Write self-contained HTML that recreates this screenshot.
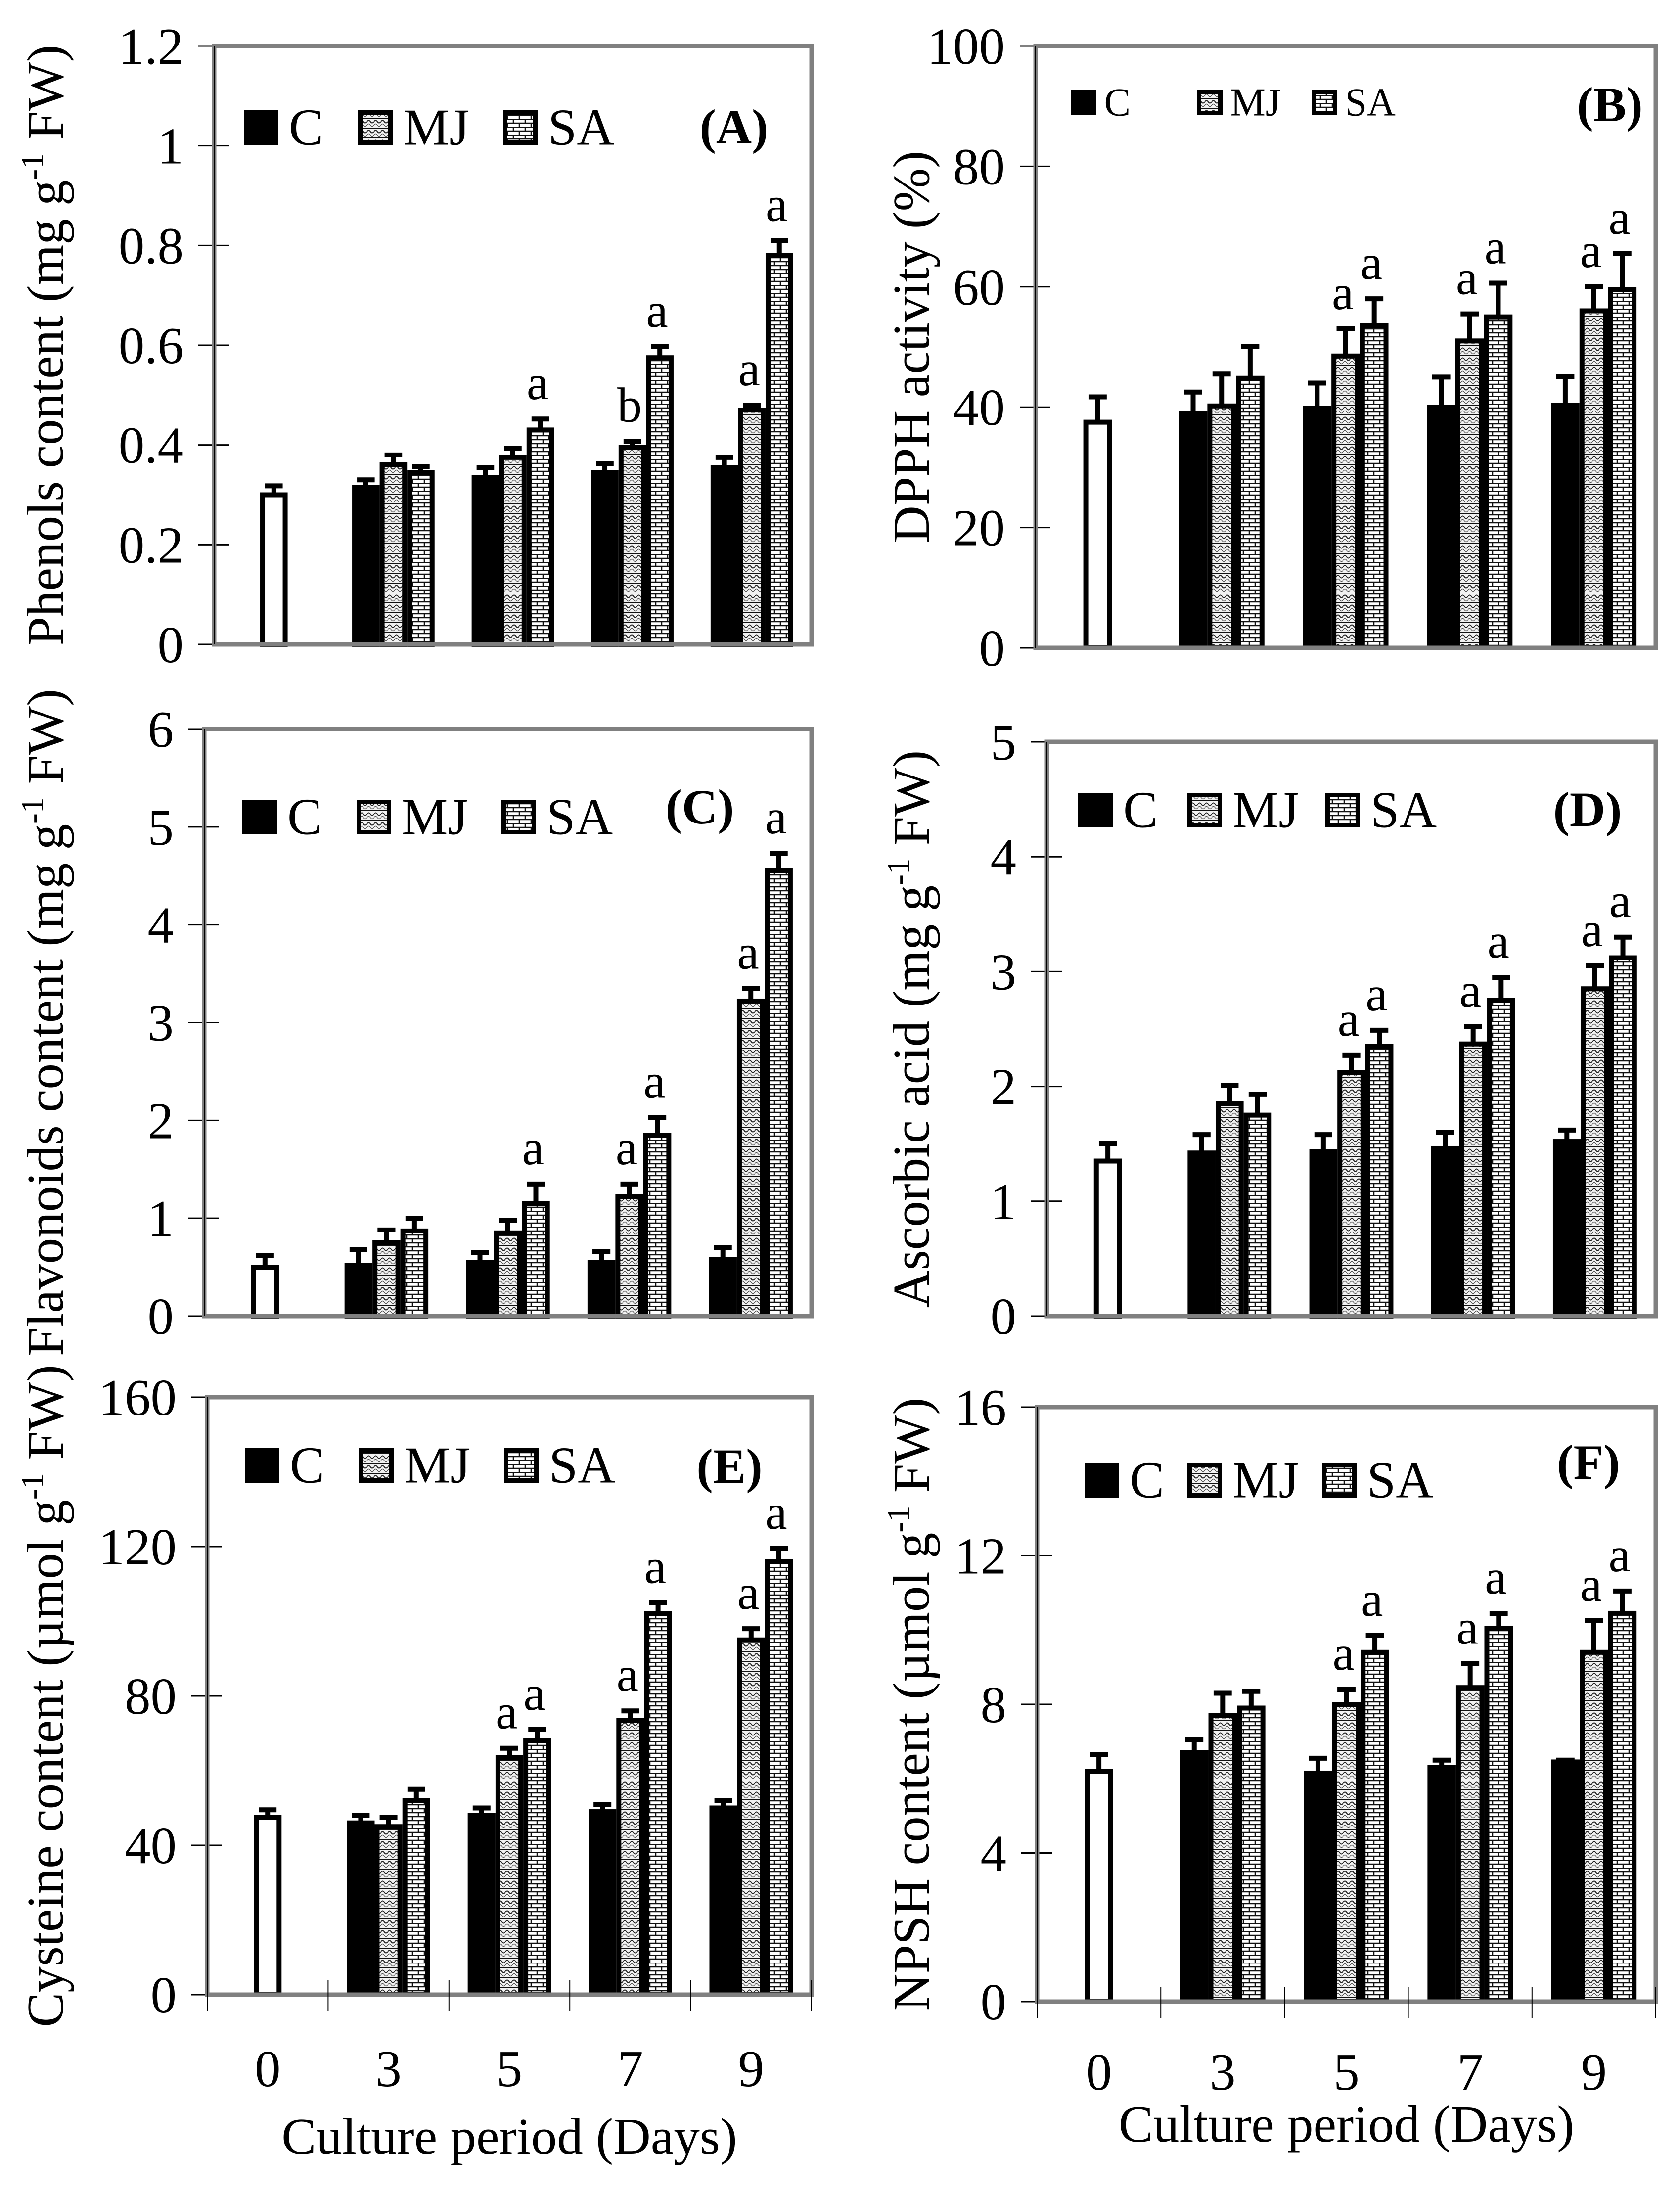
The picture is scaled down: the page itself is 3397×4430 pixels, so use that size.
<!DOCTYPE html>
<html><head><meta charset="utf-8"><style>
html,body{margin:0;padding:0;background:#fff;}
svg{display:block;font-family:"Liberation Serif","Times New Roman",serif;}
</style></head><body>
<svg id="fig" width="3397" height="4430" viewBox="0 0 3397 4430" xmlns="http://www.w3.org/2000/svg">
<defs>
<pattern id="pMJ" width="14" height="20" patternUnits="userSpaceOnUse">
<rect width="14" height="20" fill="#f2f2f2"/>
<path d="M0 6 Q3.5 1 7 6 T14 6" fill="none" stroke="#222" stroke-width="2"/>
<path d="M0 13 Q3.5 8 7 13 T14 13" fill="none" stroke="#555" stroke-width="1.5"/>
<line x1="0" y1="19" x2="14" y2="19" stroke="#111" stroke-width="2"/>
</pattern>
<pattern id="pSA" width="24" height="16" patternUnits="userSpaceOnUse">
<rect width="24" height="16" fill="#fff"/>
<line x1="0" y1="1" x2="24" y2="1" stroke="#111" stroke-width="2.5"/>
<line x1="0" y1="9" x2="24" y2="9" stroke="#111" stroke-width="2.5"/>
<line x1="6" y1="1" x2="6" y2="9" stroke="#111" stroke-width="2.5"/>
<line x1="18" y1="9" x2="18" y2="16" stroke="#111" stroke-width="2.5"/>
</pattern>
</defs>
</svg>
<script>
const categories = ["0","3","5","7","9"];
const seriesNames = ["C","MJ","SA"];

const aTicks = [0,0.2,0.4,0.6,0.8,1,1.2];
const aTickLabels = ["0","0.2","0.4","0.6","0.8","1","1.2"];
const aZero = [0.30], aZeroErr = [0.018];
const aC  = [0.315,0.335,0.345,0.355];
const aMJ = [0.36,0.375,0.395,0.47];
const aSA = [0.345,0.43,0.575,0.78];
const aCErr = [0.015,0.02,0.018,0.02];
const aMJErr = [0.02,0.018,0.012,0.01];
const aSAErr = [0.012,0.022,0.022,0.03];
const aMJLet = ["","","b","a"];
const aSALet = ["","a","a","a"];

const bTicks = [0,20,40,60,80,100];
const bTickLabels = ["0","20","40","60","80","100"];
const bZero = [37.5], bZeroErr = [4.2];
const bC  = [39,39.8,40,40.3];
const bMJ = [40.2,48.5,51,56];
const bSA = [44.8,53.5,55,59.5];
const bCErr = [3.5,4.2,5,4.8];
const bMJErr = [5.3,4.5,4.5,4];
const bSAErr = [5.3,4.5,5.6,6];
const bMJLet = ["","a","a","a"];
const bSALet = ["","a","a","a"];

const cTicks = [0,1,2,3,4,5,6];
const cTickLabels = ["0","1","2","3","4","5","6"];
const cZero = [0.5], cZeroErr = [0.12];
const cC  = [0.52,0.55,0.55,0.58];
const cMJ = [0.75,0.85,1.22,3.22];
const cSA = [0.87,1.15,1.85,4.55];
const cCErr = [0.16,0.1,0.11,0.12];
const cMJErr = [0.13,0.13,0.13,0.13];
const cSAErr = [0.13,0.2,0.18,0.18];
const cMJLet = ["","","a","a"];
const cSALet = ["","a","a","a"];

const dTicks = [0,1,2,3,4,5];
const dTickLabels = ["0","1","2","3","4","5"];
const dZero = [1.35], dZeroErr = [0.15];
const dC  = [1.42,1.43,1.46,1.52];
const dMJ = [1.85,2.12,2.37,2.85];
const dSA = [1.75,2.35,2.75,3.12];
const dCErr = [0.16,0.15,0.14,0.1];
const dMJErr = [0.16,0.15,0.15,0.2];
const dSAErr = [0.18,0.14,0.2,0.18];
const dMJLet = ["","a","a","a"];
const dSALet = ["","a","a","a"];

const eTicks = [0,40,80,120,160];
const eTickLabels = ["0","40","80","120","160"];
const eZero = [47.5], eZeroErr = [2];
const eC  = [46,48,49,50];
const eMJ = [45,63.5,73.5,95];
const eSA = [52,68,102,116];
const eCErr = [2,2,2,2];
const eMJErr = [2.5,2.5,2.5,3];
const eSAErr = [3,3,3,3.5];
const eMJLet = ["","a","a","a"];
const eSALet = ["","a","a","a"];

const fTicks = [0,4,8,12,16];
const fTickLabels = ["0","4","8","12","16"];
const fZero = [6.2], fZeroErr = [0.45];
const fC  = [6.7,6.15,6.3,6.45];
const fMJ = [7.7,8.0,8.45,9.4];
const fSA = [7.9,9.4,10.05,10.45];
const fCErr = [0.35,0.4,0.2,0.05];
const fMJErr = [0.6,0.4,0.65,0.85];
const fSAErr = [0.45,0.45,0.4,0.6];
const fMJLet = ["","a","a","a"];
const fSALet = ["","a","a","a"];

const svg = document.getElementById('fig');
const NS = "http://www.w3.org/2000/svg";
function mk(tag, attrs, parent){
  const e = document.createElementNS(NS, tag);
  for (const k in attrs) e.setAttribute(k, attrs[k]);
  (parent||svg).appendChild(e);
  return e;
}

function drawPanel(p, ticks, tickLabels, zero, zeroErr, sC, sMJ, sSA, eC_, eMJ_, eSA_, lMJ, lSA){
  const g = mk('g', {});
  
  
  const W = p.x1 - p.x0, H = p.y1 - p.y0, vmax = ticks[ticks.length-1];
  const yS = v => p.y1 - v / vmax * H;
  const xS = i => p.x0 + (i + 0.5) / categories.length * W;
  const bw = W * 0.046;

  ticks.forEach((t, i) => {
    const y = yS(t);
    const tk = mk('line', {x1:p.x0-32, x2:p.x0+30, y1:y, y2:y, stroke:'#000', 'stroke-width':3}, g);
    
    
    const tl = mk('text', {x:p.x0-62, y:y+36, 'font-size':105, 'text-anchor':'end'}, g);
    tl.textContent = tickLabels[i];
    
    
  });

  function bar(cx, v, err, fill, name){
    const y = yS(v);
    const r = mk('rect', {x:cx-bw/2+5, y:y, width:bw-10, height:p.y1-y, fill:fill, stroke:'#000', 'stroke-width':10}, g);
    
    
    const ye = yS(v + err);
    const eb = mk('path', {d:`M${cx} ${y} V${ye} M${cx-bw*0.32} ${ye} H${cx+bw*0.32}`, stroke:'#000', 'stroke-width':10, fill:'none'}, g);
    
    
    return ye;
  }
  function letter(cx, ye, txt){
    if (!txt) return;
    const t = mk('text', {x:cx-bw*0.1, y:ye-40, 'font-size':100, 'text-anchor':'middle'}, g);
    t.textContent = txt;
    
    
  }
  bar(xS(0), zero[0], zeroErr[0], '#fff', 'bar-day0');
  for (let i = 0; i < sC.length; i++){
    const cx = xS(i+1);
    bar(cx - bw, sC[i], eC_[i], '#000', 'bar-c-day' + categories[i+1]);
    const y2 = bar(cx, sMJ[i], eMJ_[i], 'url(#pMJ)', 'bar-mj-day' + categories[i+1]);
    const y3 = bar(cx + bw, sSA[i], eSA_[i], 'url(#pSA)', 'bar-sa-day' + categories[i+1]);
    letter(cx, y2, lMJ[i]);
    letter(cx + bw, y3, lSA[i]);
  }

  const fr = mk('rect', {x:p.x0, y:p.y0, width:W, height:H, fill:'none', stroke:'#808080', 'stroke-width':9}, g);
  
  
  const ax = mk('line', {x1:p.x0, x2:p.x0, y1:p.y0, y2:p.y1, stroke:'#000', 'stroke-width':2}, g);
  
  

  const ty = (p.y0 + p.y1)/2;
  const tt = mk('text', {x:p.tx, y:ty, 'font-size':105, 'text-anchor':'middle', transform:`rotate(-90 ${p.tx} ${ty})`}, g);
  
  
  if (p.sup){
    const a = mk('tspan', {}, tt); a.textContent = p.title[0];
    const b = mk('tspan', {dy:-40, 'font-size':65}, tt); b.textContent = '-1';
    const c = mk('tspan', {dy:40}, tt); c.textContent = p.title[1];
  } else tt.textContent = p.title;

  const L = p.leg;
  const fills = ['#000', 'url(#pMJ)', 'url(#pSA)'];
  seriesNames.forEach((n, i) => {
    const lg = mk('g', {}, g);
    
    
    const s = L.s;
    const bx = L.x + L.off[i];
    mk('rect', {x:bx + (i===0?0:4.5), y:L.y - s/2 + (i===0?0:4.5), width:s-(i===0?0:9), height:s-(i===0?0:9), fill:fills[i], stroke:'#000', 'stroke-width': i===0?0:9}, lg);
    const t = mk('text', {x:bx + s + s*0.3, y:L.y + L.fs*0.33, 'font-size':L.fs}, lg);
    t.textContent = n;
  });
  const pl = mk('text', {x:p.lab[0], y:p.lab[1], 'font-size':100, 'font-weight':'bold', 'text-anchor':'middle'}, g);
  pl.textContent = p.label;
  
  

  if (p.xlab){
    for (let i = 0; i <= categories.length; i++){
      const x = p.x0 + i / categories.length * W;
      const xt = mk('line', {x1:x, x2:x, y1:p.y1-30, y2:p.y1+33, stroke:'#000', 'stroke-width':2}, g);
      
      
    }
    categories.forEach((c, i) => {
      const t = mk('text', {x:xS(i), y:p.xlab[0], 'font-size':105, 'text-anchor':'middle'}, g);
      t.textContent = c;
      
      
    });
    const xt = mk('text', {x:(p.x0+p.x1)/2, y:p.xlab[1], 'font-size':105, 'text-anchor':'middle'}, g);
    xt.textContent = 'Culture period (Days)';
    
    
  }
}

const bigOff = [0, 231, 524];
drawPanel({id:'a', x0:433, x1:1641, y0:93, y1:1303, tx:127, sup:true, title:['Phenols content (mg g',' FW)'],
  leg:{x:493, off:bigOff, y:258, s:70, fs:105}, label:'(A)', lab:[1484,290]},
  aTicks, aTickLabels, aZero, aZeroErr, aC, aMJ, aSA, aCErr, aMJErr, aSAErr, aMJLet, aSALet);
drawPanel({id:'b', x0:2094, x1:3348, y0:93, y1:1310, tx:1878, sup:false, title:'DPPH activity (%)',
  leg:{x:2165, off:[0,255,487], y:207, s:52, fs:80}, label:'(B)', lab:[3255,245]},
  bTicks, bTickLabels, bZero, bZeroErr, bC, bMJ, bSA, bCErr, bMJErr, bSAErr, bMJLet, bSALet);
drawPanel({id:'c', x0:413, x1:1641, y0:1474, y1:2661, tx:127, sup:true, title:['Flavonoids content (mg g',' FW)'],
  leg:{x:490, off:bigOff, y:1652, s:70, fs:105}, label:'(C)', lab:[1415,1665]},
  cTicks, cTickLabels, cZero, cZeroErr, cC, cMJ, cSA, cCErr, cMJErr, cSAErr, cMJLet, cSALet);
drawPanel({id:'d', x0:2117, x1:3348, y0:1500, y1:2661, tx:1878, sup:true, title:['Ascorbic acid (mg g',' FW)'],
  leg:{x:2180, off:[0,221,500], y:1638, s:70, fs:105}, label:'(D)', lab:[3210,1670]},
  dTicks, dTickLabels, dZero, dZeroErr, dC, dMJ, dSA, dCErr, dMJErr, dSAErr, dMJLet, dSALet);
drawPanel({id:'e', x0:419, x1:1641, y0:2825, y1:4033, tx:127, sup:true, title:['Cysteine content (\u00b5mol g',' FW)'],
  leg:{x:495, off:bigOff, y:2963, s:70, fs:105}, label:'(E)', lab:[1475,2998], xlab:[4218,4355]},
  eTicks, eTickLabels, eZero, eZeroErr, eC, eMJ, eSA, eCErr, eMJErr, eSAErr, eMJLet, eSALet);
drawPanel({id:'f', x0:2097, x1:3348, y0:2845, y1:4047, tx:1878, sup:true, title:['NPSH content (\u00b5mol g',' FW)'],
  leg:{x:2193, off:[0,208,480], y:2993, s:70, fs:105}, label:'(F)', lab:[3212,2990], xlab:[4225,4330]},
  fTicks, fTickLabels, fZero, fZeroErr, fC, fMJ, fSA, fCErr, fMJErr, fSAErr, fMJLet, fSALet);
</script>
</body></html>
